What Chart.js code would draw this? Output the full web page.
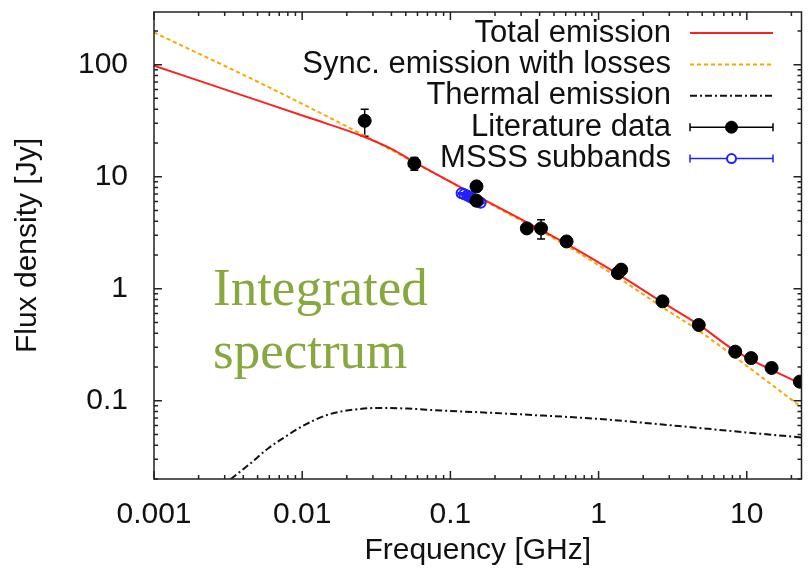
<!DOCTYPE html>
<html>
<head>
<meta charset="utf-8">
<script src="https://cdn.jsdelivr.net/npm/chart.js@4.4.1/dist/chart.umd.min.js"></script>
<style>
    body { margin: 0; background: #fff; }
    #grafico { display: block; }
</style>
</head>
<body>
<canvas id="grafico" width="809" height="574"></canvas>
<script>
                            /* DADOS */
const ticksFrequencia = [0.001, 0.01, 0.1, 1, 10]
const ticksFluxo = [0.1, 1, 10, 100]

// emissao total
const totalFreq = [0.001, 0.0051, 0.011, 0.0251, 0.04, 0.0571, 0.152, 0.608, 1.35, 2.7, 4.74, 8.36, 23.4]
const totalFluxo = [98, 47.5, 33.7, 23.2, 17.7, 13.5, 6.7, 2.51, 1.35, 0.755, 0.477, 0.279, 0.14]

// sincrotron com perdas
const syncFreq = [0.001, 0.0051, 0.0251, 0.0571, 0.117, 0.152, 0.608, 1.35, 2.7, 4.74, 8.36, 23.4]
const syncFluxo = [194, 69.5, 24.0, 13.4, 8.0, 6.6, 2.42, 1.26, 0.681, 0.422, 0.244, 0.0875]

// emissao termica
const termicaFreq = [0.0033, 0.00436, 0.00594, 0.0081, 0.0105, 0.015, 0.0226, 0.0341, 0.0515, 0.086, 0.152, 0.3, 1, 3, 10, 23.4]
const termicaFluxo = [0.02, 0.0268, 0.0378, 0.0498, 0.0612, 0.0752, 0.0834, 0.0862, 0.085, 0.0817, 0.079, 0.0755, 0.0687, 0.0605, 0.052, 0.047]

// dados da literatura
const litFreq = [0.0264, 0.0571, 0.150, 0.150, 0.328, 0.409, 0.608, 1.35, 1.42, 2.7, 4.74, 8.36, 10.7, 14.7, 22.8]
const litFluxo = [31.5, 13.1, 8.19, 6.1, 3.45, 3.45, 2.64, 1.38, 1.48, 0.771, 0.474, 0.274, 0.24, 0.196, 0.148]
const litErro = [8.5, 1.7, 0.3, 0.3, 0.15, 0.68, 0.1, 0.05, 0.05, 0.03, 0.02, 0.01, 0.01, 0.01, 0.01]

// subbandas MSSS
const msssFreq = [0.119, 0.124, 0.130, 0.135, 0.141, 0.147, 0.153, 0.160]
const msssFluxo = [7.1, 6.95, 6.8, 6.6, 6.4, 6.2, 6.0, 5.85]
const msssErro = [0.1, 0.1, 0.1, 0.1, 0.1, 0.1, 0.1, 0.1]

const textoAnotacao = ['Integrated', 'spectrum']

const fonteSans = '"Liberation Sans", Arial, Helvetica, sans-serif'

                            /* FUNCOES */
function pares(xs, ys) {
    return xs.map((x, i) => ({ x: x, y: ys[i] }))
}

/* divisoes do eixo log: [valor, eh maior] */
function divisoes(min, max) {
    const lista = []
    for (let n = Math.floor(Math.log10(min)); n <= Math.ceil(Math.log10(max)); n++) {
        for (let k = 1; k <= 9; k++) {
            const v = k * Math.pow(10, n)
            if (v >= min * 0.999 && v <= max * 1.001) lista.push([v, k === 1])
        }
    }
    return lista
}

/* barras de erro por baixo dos pontos */
const barrasErro = {
    id: 'barrasErro',
    beforeDatasetsDraw(chart) {
        const { ctx, chartArea: a, scales: { x, y } } = chart
        ctx.save()
        ctx.beginPath()
        ctx.rect(a.left, a.top, a.right - a.left, a.bottom - a.top)
        ctx.clip()
        chart.data.datasets.forEach(ds => {
            if (!ds.erros) return
            ctx.strokeStyle = ds.borderColor
            ctx.lineWidth = 1.5
            ds.data.forEach((p, i) => {
                const e = ds.erros[i]
                const px = x.getPixelForValue(p.x)
                const y1 = y.getPixelForValue(p.y - e)
                const y2 = y.getPixelForValue(p.y + e)
                ctx.beginPath()
                ctx.moveTo(px, y1); ctx.lineTo(px, y2)
                ctx.moveTo(px - 4, y1); ctx.lineTo(px + 4, y1)
                ctx.moveTo(px - 4, y2); ctx.lineTo(px + 4, y2)
                ctx.stroke()
            })
        })
        ctx.restore()
    }
}

/* moldura e tracos para dentro nos 4 lados */
const moldura = {
    id: 'moldura',
    afterDatasetsDraw(chart) {
        const { ctx, chartArea: { left, right, top, bottom }, scales: { x, y } } = chart
        ctx.save()
        ctx.strokeStyle = '#222'
        ctx.lineWidth = 1.5
        ctx.beginPath()
        divisoes(x.min, x.max).forEach(([v, maior]) => {
            const px = x.getPixelForValue(v)
            const t = maior ? 8 : 4
            ctx.moveTo(px, bottom); ctx.lineTo(px, bottom - t)
            ctx.moveTo(px, top); ctx.lineTo(px, top + t)
        })
        divisoes(y.min, y.max).forEach(([v, maior]) => {
            const py = y.getPixelForValue(v)
            const t = maior ? 8 : 4
            ctx.moveTo(left, py); ctx.lineTo(left + t, py)
            ctx.moveTo(right, py); ctx.lineTo(right - t, py)
        })
        ctx.stroke()
        ctx.strokeRect(left, top, right - left, bottom - top)
        ctx.restore()
    }
}

/* legenda no estilo gnuplot */
const legenda = {
    id: 'legenda',
    afterDraw(chart) {
        const { ctx } = chart
        ctx.save()
        ctx.font = '31px ' + fonteSans
        ctx.textAlign = 'right'
        ctx.textBaseline = 'middle'
        chart.data.datasets.forEach((ds, i) => {
            const yc = 33 + i * 31.4
            ctx.fillStyle = '#111'
            ctx.fillText(ds.label, 671, yc)
            ctx.strokeStyle = ds.borderColor
            ctx.lineWidth = ds.showLine ? ds.borderWidth : 1.5
            ctx.setLineDash(ds.borderDash || [])
            ctx.beginPath()
            ctx.moveTo(690, yc); ctx.lineTo(773, yc)
            ctx.stroke()
            ctx.setLineDash([])
            if (ds.erros) {
                ctx.beginPath()
                ctx.moveTo(690, yc - 4); ctx.lineTo(690, yc + 4)
                ctx.moveTo(773, yc - 4); ctx.lineTo(773, yc + 4)
                ctx.stroke()
                ctx.beginPath()
                ctx.arc(731.5, yc, ds.pointRadius - 0.5, 0, Math.PI * 2)
                ctx.fillStyle = ds.pointBackgroundColor === 'transparent' ? '#fff' : ds.pointBackgroundColor
                ctx.fill()
                ctx.lineWidth = ds.pointBorderWidth
                ctx.strokeStyle = ds.pointBorderColor
                ctx.stroke()
            }
        })
        ctx.restore()
    }
}

/* texto verde dentro do grafico */
const anotacao = {
    id: 'anotacao',
    afterDraw(chart) {
        const { ctx } = chart
        ctx.save()
        ctx.font = '53px "Liberation Serif", "Times New Roman", serif'
        ctx.fillStyle = '#86a83c'
        ctx.textAlign = 'left'
        ctx.textBaseline = 'alphabetic'
        ctx.fillText(textoAnotacao[0], 213, 305)
        ctx.fillText(textoAnotacao[1], 213, 368)
        ctx.restore()
    }
}

                            /* GRAFICO */
const grafico = document.querySelector('#grafico')
const graficoEspectro = new Chart(grafico, {
    type: 'scatter',
    data: {
        datasets: [{
            label: 'Total emission',
            data: pares(totalFreq, totalFluxo),
            showLine: true,
            borderColor: '#ff2020',
            borderWidth: 2,
            pointRadius: 0,
            cubicInterpolationMode: 'monotone',
            order: 2
        }, {
            label: 'Sync. emission with losses',
            data: pares(syncFreq, syncFluxo),
            showLine: true,
            borderColor: '#ffa500',
            borderWidth: 2,
            borderDash: [4, 3],
            pointRadius: 0,
            cubicInterpolationMode: 'monotone',
            order: 3
        }, {
            label: 'Thermal emission',
            data: pares(termicaFreq, termicaFluxo),
            showLine: true,
            borderColor: '#111',
            borderWidth: 2,
            borderDash: [7, 3, 2, 3],
            pointRadius: 0,
            cubicInterpolationMode: 'monotone',
            order: 4
        }, {
            label: 'Literature data',
            data: pares(litFreq, litFluxo),
            erros: litErro,
            showLine: false,
            borderColor: '#000',
            pointRadius: 6.5,
            pointBackgroundColor: '#000',
            pointBorderColor: '#000',
            pointBorderWidth: 1,
            order: 0
        }, {
            label: 'MSSS subbands',
            data: pares(msssFreq, msssFluxo),
            erros: msssErro,
            showLine: false,
            borderColor: '#2020ff',
            pointRadius: 5,
            pointBackgroundColor: 'transparent',
            pointBorderColor: '#2020ff',
            pointBorderWidth: 2,
            order: 1
        }]
    },
    options: {
        responsive: false,
        animation: false,
        devicePixelRatio: 1,
        layout: { padding: { top: 12, right: 2, left: 0, bottom: 0 } },
        plugins: {
            legend: { display: false },
            tooltip: { enabled: false }
        },
        scales: {
            x: {
                type: 'logarithmic',
                min: 0.001,
                max: 23.4,
                grid: { display: false },
                border: { display: false },
                afterBuildTicks: s => { s.ticks = ticksFrequencia.map(v => ({ value: v })) },
                afterFit: s => { s.height = 95; s.paddingLeft = 0; s.paddingRight = 0 },
                ticks: {
                    autoSkip: false,
                    maxRotation: 0,
                    padding: 10,
                    color: '#111',
                    font: { family: fonteSans, size: 30 },
                    callback: v => String(v)
                },
                title: {
                    display: true,
                    text: 'Frequency [GHz]',
                    color: '#111',
                    font: { family: fonteSans, size: 30 },
                    padding: { top: 0, bottom: 5 }
                }
            },
            y: {
                type: 'logarithmic',
                min: 0.02,
                max: 295,
                grid: { display: false },
                border: { display: false },
                afterBuildTicks: s => { s.ticks = ticksFluxo.map(v => ({ value: v })) },
                afterFit: s => { s.width = 154; s.paddingTop = 0; s.paddingBottom = 0 },
                ticks: {
                    autoSkip: false,
                    padding: 18,
                    color: '#111',
                    font: { family: fonteSans, size: 30 },
                    callback: v => String(v)
                },
                title: {
                    display: true,
                    text: 'Flux density [Jy]',
                    color: '#111',
                    font: { family: fonteSans, size: 30 },
                    padding: { top: 10, bottom: 0 }
                }
            }
        }
    },
    plugins: [barrasErro, moldura, legenda, anotacao]
})
</script>
</body>
</html>
